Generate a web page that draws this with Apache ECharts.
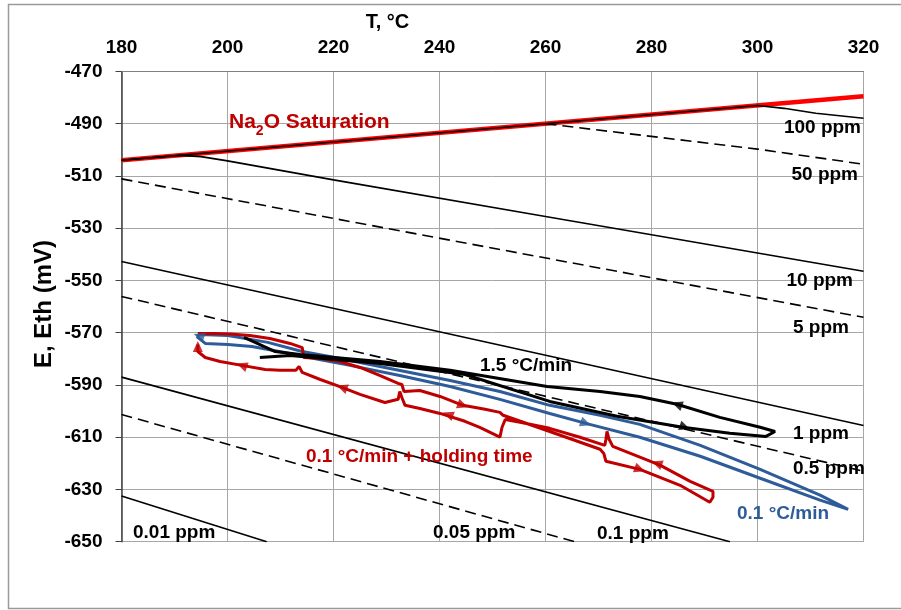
<!DOCTYPE html>
<html>
<head>
<meta charset="utf-8">
<title>E, Eth vs T</title>
<script src="https://cdn.jsdelivr.net/npm/echarts@6/dist/echarts.min.js"></script>
<style>
  html,body{margin:0;padding:0;background:#fff}
  #chart{width:901px;height:610px}
</style>
</head>
<body>
<div id="chart"></div>
<script>
// solubility lines (T in °C, E in mV)
const satT = [180, 320];
const satE = [-504, -479.5];
const c100T = [180, 300, 305, 311, 320];
const c100E = [-504, -483.0, -484.1, -486.0, -487.9];
const c50T = [260, 300, 320];
const c50E = [-490, -499.7, -505.5];
const c10T = [180, 191, 195, 200, 220, 260, 300, 320];
const c10E = [-504, -502.1, -502.6, -504.2, -511.5, -525.5, -539.5, -546.5];
const c5T = [180, 320];
const c5E = [-511.1, -564.1];
const c1T = [180, 320];
const c1E = [-542.7, -605.5];
const c05T = [180, 320];
const c05E = [-556.1, -623.0];
const c01T = [180, 294.8];
const c01E = [-587.0, -650];
const c005T = [180, 265.5];
const c005E = [-601.3, -650];
const c001T = [180, 207.4];
const c001E = [-632.5, -650];

// measured: 1.5 °C/min
const blkT = [206.1,211.8,228.8,244.8,260.8,273.5,285.9,294.8,301.6,303.3,300.5,292.9,284.8,277.8,270.3,260.3,242.0,228.8,213.7,209.0,205.2,203.1];
const blkE = [-579.5,-578.7,-581.8,-586.0,-596.3,-602.0,-606.2,-608.5,-609.7,-607.8,-606.2,-602.4,-597.4,-594.4,-592.5,-590.6,-584.4,-581.0,-578.3,-577.2,-573.7,-571.8];

// measured: 0.1 °C/min
const bluT = [194.2,195.8,200.1,204.6,210.8,217.1,223.1,232.5,242.0,251.4,260.8,267.6,277.8,289.2,300.5,311.8,317.1,
              311.8,300.5,289.2,277.8,270.3,260.8,251.4,242.0,229.7,220.3,214.1,207.6,200.1,194.8,194.2];
const bluE = [-571.5,-574.1,-574.5,-575.3,-577.6,-580.2,-582.5,-586.4,-590.6,-595.5,-600.9,-604.7,-610.0,-617.3,-625.7,-634.1,-637.6,
              -632.2,-622.3,-613.1,-605.1,-601.6,-597.8,-592.5,-588.3,-583.3,-579.5,-577.2,-573.7,-571.1,-570.7,-571.5];

// measured: 0.1 °C/min + holding time
const redT = [194.4,197.6,200.5,204.2,208.0,211.8,214.1,214.4,217.5,221.2,225.0,228.8,232.2,232.9,233.3,236.3,240.1,244.4,248.6,251.4,
              252.0,260.8,270.3,271.0,271.4,277.8,285.4,291.0,291.6,291.6,
              287.3,281.6,272.7,272.0,271.6,271.4,271.2,266.5,260.8,255.2,252.4,251.8,251.4,247.6,244.8,240.1,236.3,233.5,232.9,232.5,
              232.2,229.7,225.0,221.6,217.5,214.1,213.5,212.9,209.9,207.1,202.7,198.6,195.8,194.4,194.4];
const redE = [-570.3,-570.3,-570.5,-571.1,-572.2,-574.1,-575.7,-579.5,-579.9,-581.0,-583.3,-586.4,-589.4,-589.8,-592.5,-592.1,-594.4,-597.8,-599.3,-600.5,
              -601.6,-607.8,-614.6,-616.2,-619.2,-622.3,-628.4,-634.9,-633.0,-630.7,
              -626.9,-620.7,-613.5,-610.8,-607.8,-610.8,-613.1,-610.0,-606.6,-604.3,-603.2,-606.2,-610.0,-606.2,-603.9,-600.9,-599.0,-597.8,-594.8,-592.5,
              -595.5,-596.7,-593.6,-590.9,-587.9,-585.2,-582.9,-584.4,-584.4,-584.1,-582.5,-581.0,-579.5,-577.2,-574.5];

// direction arrows on the measured curves
const redArrT = [194.4, 202.7, 221.6, 241.6, 244.4, 277.8, 281.0];
const redArrE = [-575.3, -582.5, -590.9, -601.3, -597.8, -622.3, -620.0];
const redArrDir = ['up', 'left', 'left', 'left', 'right', 'right', 'left'];
const blkArrT = [284.8, 286.3];
const blkArrE = [-597.4, -606.2];
const blkArrDir = ['left', 'right'];
const bluArrT = [267.6, 194.6];
const bluArrE = [-604.7, -571.2];
const bluArrDir = ['right', 'left'];

const FONT = '"Liberation Sans", Arial, sans-serif';
const RED = '#C00000', BLUE = '#2E5C99', BLACK = '#000';

const pairs = (xs, ys) => xs.map((x, i) => [x, ys[i]]);
const ROT = {up: 0, left: 70, right: -110};

function lineSeries(name, xs, ys, color, width, dash, z){
  return {
    type: 'line', name, data: pairs(xs, ys), showSymbol: false, symbol: 'none',
    lineStyle: {color, width, type: dash ? [11, 6] : 'solid'},
    z: z || 2, silent: true, animation: false
  };
}
function arrowSeries(name, xs, ys, dirs, color){
  return {
    type: 'scatter', name, symbol: 'triangle', symbolSize: [10, 11],
    itemStyle: {color},
    data: xs.map((x, i) => ({value: [x, ys[i]], symbolRotate: ROT[dirs[i]]})),
    z: 6, silent: true, animation: false
  };
}
function label(text, x, y, color, align, size){
  return {type: 'text', x, y, z: 100,
    style: {text, fill: color, font: 'bold ' + (size || 19) + 'px ' + FONT, align: align || 'left', verticalAlign: 'middle'}};
}

const chart = echarts.init(document.getElementById('chart'));
chart.setOption({
  backgroundColor: '#fff',
  animation: false,
  grid: {left: 121.5, right: 37.5, top: 71.5, bottom: 68.3},
  xAxis: {
    type: 'value', position: 'top', min: 180, max: 320, interval: 20,
    axisLine: {show: true, lineStyle: {color: '#808080', width: 1}},
    axisTick: {show: false},
    axisLabel: {fontSize: 19, fontWeight: 'bold', color: '#000', fontFamily: FONT, margin: 14},
    splitLine: {show: true, lineStyle: {color: '#a6a6a6', width: 1}}
  },
  yAxis: {
    type: 'value', min: -650, max: -470, interval: 20,
    axisLine: {show: true, lineStyle: {color: '#404040', width: 1.5}},
    axisTick: {show: true, length: 6, lineStyle: {color: '#404040'}},
    axisLabel: {fontSize: 19, fontWeight: 'bold', color: '#000', fontFamily: FONT, margin: 19},
    splitLine: {show: true, lineStyle: {color: '#a6a6a6', width: 1}}
  },
  graphic: [
    {type: 'rect', shape: {x: 8.5, y: 4.5, width: 900, height: 604}, style: {fill: 'none', stroke: '#9a9a9a', lineWidth: 1.5}, z: -1},
    label('T, °C', 387.5, 22, BLACK, 'center', 20),
    {type: 'text', x: 44.5, y: 304, rotation: Math.PI / 2, z: 100,
      style: {text: 'E, Eth (mV)', fill: BLACK, font: 'bold 24px ' + FONT, align: 'center', verticalAlign: 'middle'}},
    {type: 'text', x: 229, y: 122, z: 100, style: {
      text: '{n|Na}{s|2}{n|O Saturation}', fill: RED, align: 'left', verticalAlign: 'middle',
      rich: {
        n: {font: 'bold 21px ' + FONT, fill: RED, lineHeight: 24},
        s: {font: 'bold 14px ' + FONT, fill: RED, lineHeight: 24, verticalAlign: 'bottom', padding: [0, 0, -4, 0]}
      }}},
    label('100 ppm', 861, 128, BLACK, 'right'),
    label('50 ppm', 858, 175, BLACK, 'right'),
    label('10 ppm', 853, 281, BLACK, 'right'),
    label('5 ppm', 793, 328, BLACK),
    label('1 ppm', 793, 434, BLACK),
    label('0.5 ppm', 793, 469, BLACK),
    label('0.01 ppm', 133, 533, BLACK),
    label('0.05 ppm', 433, 533, BLACK),
    label('0.1 ppm', 597, 534, BLACK),
    label('1.5 °C/min', 480, 366, BLACK),
    label('0.1 °C/min + holding time', 306, 457, RED),
    label('0.1 °C/min', 737, 514, BLUE)
  ],
  series: [
    lineSeries('Na2O Saturation', satT, satE, '#FF0000', 4.5, false, 2),
    lineSeries('100 ppm', c100T, c100E, BLACK, 1.6, false, 3),
    lineSeries('50 ppm', c50T, c50E, BLACK, 1.6, true, 3),
    lineSeries('10 ppm', c10T, c10E, BLACK, 1.6, false, 3),
    lineSeries('5 ppm', c5T, c5E, BLACK, 1.6, true, 3),
    lineSeries('1 ppm', c1T, c1E, BLACK, 1.6, false, 3),
    lineSeries('0.5 ppm', c05T, c05E, BLACK, 1.6, true, 3),
    lineSeries('0.1 ppm', c01T, c01E, BLACK, 1.6, false, 3),
    lineSeries('0.05 ppm', c005T, c005E, BLACK, 1.6, true, 3),
    lineSeries('0.01 ppm', c001T, c001E, BLACK, 1.6, false, 3),
    lineSeries('0.1 °C/min', bluT, bluE, BLUE, 3, false, 4),
    lineSeries('0.1 °C/min + holding time', redT, redE, RED, 3, false, 4),
    lineSeries('1.5 °C/min', blkT, blkE, BLACK, 3, false, 5),
    arrowSeries('blue arrows', bluArrT, bluArrE, bluArrDir, BLUE),
    arrowSeries('red arrows', redArrT, redArrE, redArrDir, RED),
    arrowSeries('black arrows', blkArrT, blkArrE, blkArrDir, BLACK)
  ]
});
</script>
</body>
</html>
